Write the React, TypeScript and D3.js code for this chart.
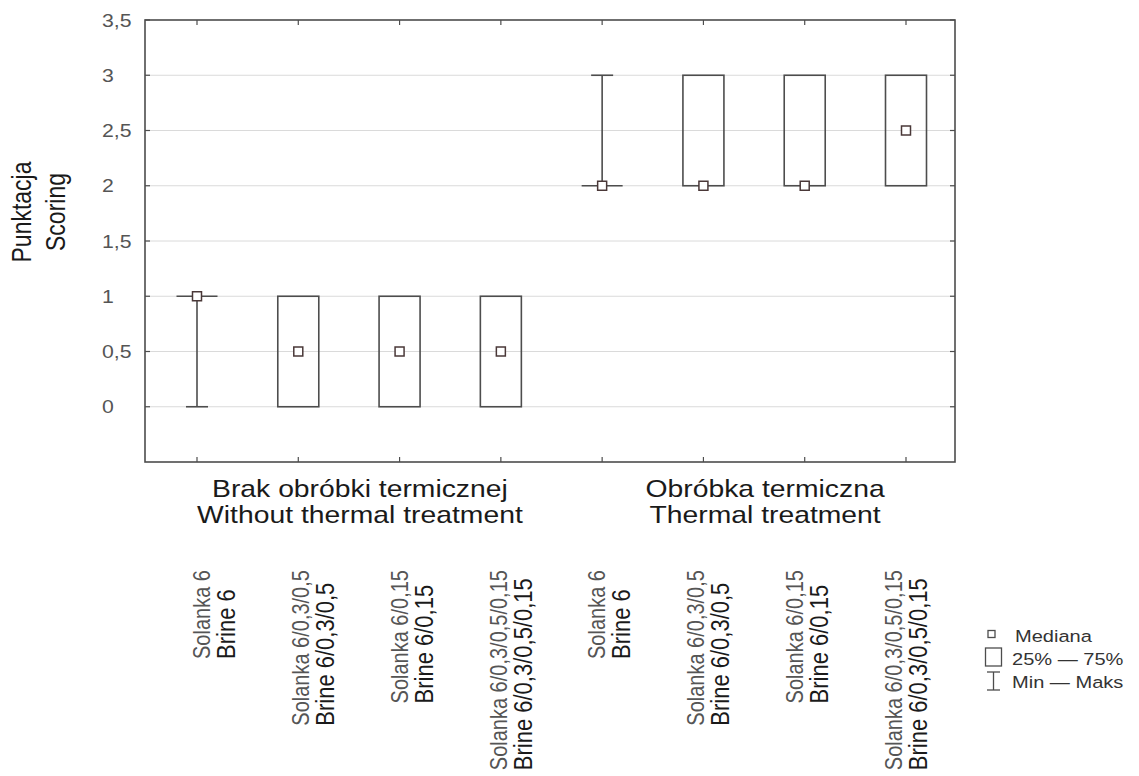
import React, { useEffect, useRef } from "react";
import * as d3 from "d3";

// Category labels (Polish / English), one per box
const solankaLabels = [
  "Solanka 6",
  "Solanka 6/0,3/0,5",
  "Solanka 6/0,15",
  "Solanka 6/0,3/0,5/0,15",
  "Solanka 6",
  "Solanka 6/0,3/0,5",
  "Solanka 6/0,15",
  "Solanka 6/0,3/0,5/0,15",
];
const brineLabels = [
  "Brine 6",
  "Brine 6/0,3/0,5",
  "Brine 6/0,15",
  "Brine 6/0,3/0,5/0,15",
  "Brine 6",
  "Brine 6/0,3/0,5",
  "Brine 6/0,15",
  "Brine 6/0,3/0,5/0,15",
];
const groupLabelsPl = ["Brak obróbki termicznej", "Obróbka termiczna"];
const groupLabelsEn = ["Without thermal treatment", "Thermal treatment"];
const groupOf = [0, 0, 0, 0, 1, 1, 1, 1];

// Box statistics
const medians = [1, 0.5, 0.5, 0.5, 2, 2, 2, 2.5];
const q25 = [1, 0, 0, 0, 2, 2, 2, 2];
const q75 = [1, 1, 1, 1, 2, 3, 3, 3];
const mins = [0, 0, 0, 0, 2, 2, 2, 2];
const maxs = [1, 1, 1, 1, 3, 3, 3, 3];

const yTicks = [0, 0.5, 1, 1.5, 2, 2.5, 3, 3.5];
const yTickLabels = ["0", "0,5", "1", "1,5", "2", "2,5", "3", "3,5"];
const yTitle = ["Punktacja", "Scoring"];
const legendLabels = ["Mediana", "25% \u2014 75%", "Min \u2014 Maks"];

const W = 1139;
const H = 776;
const FONT = "'Liberation Sans', Arial, Helvetica, sans-serif";
const SX = 1.18; // horizontal glyph stretch
const frame = { left: 145, right: 955, top: 20, bottom: 462 };
const INK = "#4d4d4d";

export default function App() {
  const ref = useRef<SVGSVGElement | null>(null);

  useEffect(() => {
    const svg = d3.select(ref.current);
    svg.selectAll("*").remove();

    const idx = d3.range(medians.length).map(String);
    const x = d3.scalePoint<string>().domain(idx).range([197, 906]);
    const y = d3
      .scaleLinear()
      .domain([-0.5, 3.5])
      .range([frame.bottom, frame.top]);
    const labelX = d3.scalePoint<string>().domain(idx).range([210, 902]);

    // horizontal grid
    svg
      .append("g")
      .selectAll("line")
      .data(yTicks.filter((t) => t < 3.5))
      .join("line")
      .attr("x1", frame.left)
      .attr("x2", frame.right)
      .attr("y1", (d) => y(d))
      .attr("y2", (d) => y(d))
      .attr("stroke", "#dadada")
      .attr("stroke-width", 1);

    // frame
    svg
      .append("rect")
      .attr("x", frame.left)
      .attr("y", frame.top)
      .attr("width", frame.right - frame.left)
      .attr("height", frame.bottom - frame.top)
      .attr("fill", "none")
      .attr("stroke", INK)
      .attr("stroke-width", 1.6);

    // inward ticks on all four sides
    const tk = svg.append("g").attr("stroke", INK).attr("stroke-width", 1.2);
    tk.selectAll(".tl")
      .data(yTicks)
      .join("line")
      .attr("x1", frame.left)
      .attr("x2", frame.left + 5)
      .attr("y1", (d) => y(d))
      .attr("y2", (d) => y(d));
    tk.selectAll(".tr")
      .data(yTicks)
      .join("line")
      .attr("x1", frame.right - 5)
      .attr("x2", frame.right)
      .attr("y1", (d) => y(d))
      .attr("y2", (d) => y(d));
    tk.selectAll(".tt")
      .data(idx)
      .join("line")
      .attr("x1", (d) => x(d)!)
      .attr("x2", (d) => x(d)!)
      .attr("y1", frame.top)
      .attr("y2", frame.top + 5);
    tk.selectAll(".tb")
      .data(idx)
      .join("line")
      .attr("x1", (d) => x(d)!)
      .attr("x2", (d) => x(d)!)
      .attr("y1", frame.bottom - 5)
      .attr("y2", frame.bottom);

    // y tick labels
    svg
      .append("g")
      .selectAll("text")
      .data(yTicks)
      .join("text")
      .attr("transform", (d) => `translate(102,${y(d) + 6.5}) scale(${SX},1)`)
      .attr("font-family", FONT)
      .attr("font-size", 18)
      .attr("fill", "#555")
      .text((_, i) => yTickLabels[i]);

    // y axis title
    yTitle.forEach((t, i) => {
      svg
        .append("text")
        .attr("transform", `translate(${31 + i * 34},212) scale(${SX},1) rotate(-90)`)
        .attr("text-anchor", "middle")
        .attr("font-family", FONT)
        .attr("font-size", 23)
        .attr("fill", "#1a1a1a")
        .text(t);
    });

    // boxes, whiskers and medians
    const boxHalf = 20.5;
    const capHalf = 11;
    const g = svg.append("g").attr("stroke", INK).attr("stroke-width", 1.6).attr("fill", "none");
    idx.forEach((k, i) => {
      const cx = x(k)!;
      if (maxs[i] > q75[i]) {
        g.append("line").attr("x1", cx).attr("x2", cx).attr("y1", y(q75[i])).attr("y2", y(maxs[i]));
        g.append("line")
          .attr("x1", cx - capHalf)
          .attr("x2", cx + capHalf)
          .attr("y1", y(maxs[i]))
          .attr("y2", y(maxs[i]));
      }
      if (mins[i] < q25[i]) {
        g.append("line").attr("x1", cx).attr("x2", cx).attr("y1", y(q25[i])).attr("y2", y(mins[i]));
        g.append("line")
          .attr("x1", cx - capHalf)
          .attr("x2", cx + capHalf)
          .attr("y1", y(mins[i]))
          .attr("y2", y(mins[i]));
      }
      if (q75[i] > q25[i]) {
        g.append("rect")
          .attr("x", cx - boxHalf)
          .attr("y", y(q75[i]))
          .attr("width", boxHalf * 2)
          .attr("height", y(q25[i]) - y(q75[i]));
      } else {
        g.append("line")
          .attr("x1", cx - boxHalf)
          .attr("x2", cx + boxHalf)
          .attr("y1", y(q25[i]))
          .attr("y2", y(q25[i]));
      }
      const m = 4.5;
      g.append("rect")
        .attr("x", cx - m)
        .attr("y", y(medians[i]) - m)
        .attr("width", m * 2)
        .attr("height", m * 2)
        .attr("fill", "#fff")
        .attr("stroke", "#4a3838")
        .attr("stroke-width", 1.5);
    });

    // group labels
    [0, 1].forEach((gi) => {
      const xs = idx.filter((_, i) => groupOf[i] === gi).map((k) => x(k)!);
      const cx = d3.mean(xs)! + 11;
      [groupLabelsPl[gi], groupLabelsEn[gi]].forEach((t, li) => {
        svg
          .append("text")
          .attr("transform", `translate(${cx},${497 + li * 26}) scale(${SX},1)`)
          .attr("text-anchor", "middle")
          .attr("font-family", FONT)
          .attr("font-size", 24)
          .attr("fill", "#1a1a1a")
          .text(t);
      });
    });

    // rotated category labels: both lines start together, longest line ends at the top
    const topY = 570;
    idx.forEach((k, i) => {
      const bx = labelX(k)!;
      const sol = svg
        .append("text")
        .attr("font-family", FONT)
        .attr("font-size", 20)
        .attr("fill", "#555")
        .text(solankaLabels[i]);
      const bri = svg
        .append("text")
        .attr("font-family", FONT)
        .attr("font-size", 22)
        .attr("fill", "#1a1a1a")
        .text(brineLabels[i]);
      const len = Math.max(
        (sol.node() as SVGTextElement).getComputedTextLength(),
        (bri.node() as SVGTextElement).getComputedTextLength()
      );
      const startY = topY + len;
      sol.attr("transform", `translate(${bx},${startY}) scale(${SX},1) rotate(-90)`);
      bri.attr("transform", `translate(${bx + 25},${startY}) scale(${SX},1) rotate(-90)`);
    });

    // legend
    const lg = svg.append("g");
    lg.append("rect")
      .attr("x", 988)
      .attr("y", 630.5)
      .attr("width", 7)
      .attr("height", 7)
      .attr("fill", "#fff")
      .attr("stroke", INK)
      .attr("stroke-width", 1.3);
    lg.append("rect")
      .attr("x", 985.5)
      .attr("y", 648)
      .attr("width", 16)
      .attr("height", 18)
      .attr("fill", "none")
      .attr("stroke", INK)
      .attr("stroke-width", 1.3);
    const wk = lg.append("g").attr("stroke", INK).attr("stroke-width", 1.3);
    wk.append("line").attr("x1", 993.5).attr("x2", 993.5).attr("y1", 672).attr("y2", 690);
    wk.append("line").attr("x1", 987).attr("x2", 1000).attr("y1", 672).attr("y2", 672);
    wk.append("line").attr("x1", 987).attr("x2", 1000).attr("y1", 690).attr("y2", 690);
    legendLabels.forEach((t, i) => {
      lg.append("text")
        .attr("transform", `translate(${i === 0 ? 1015 : 1012},${642 + i * 23}) scale(${SX},1)`)
        .attr("font-family", FONT)
        .attr("font-size", 17)
        .attr("fill", "#333")
        .text(t);
    });
  }, []);

  return (
    <svg
      ref={ref}
      width={W}
      height={H}
      viewBox={`0 0 ${W} ${H}`}
      style={{ position: "absolute", left: 0, top: 0, background: "#fff" }}
    />
  );
}
